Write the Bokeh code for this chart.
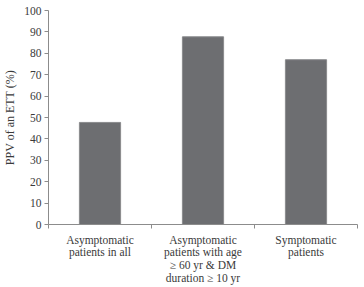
from bokeh.plotting import figure
from bokeh.models import FixedTicker, Range1d
from bokeh.embed import file_html
from bokeh.resources import INLINE

categories = ["Asymptomatic\npatients in all",
              "Asymptomatic\npatients with age\n\u2265 60 yr & DM\nduration \u2265 10 yr",
              "Symptomatic\npatients"]
ppv = [47.7, 87.7, 77.0]
y_ticks = [0, 10, 20, 30, 40, 50, 60, 70, 80, 90, 100]

xs = [i + 0.5 for i in range(len(categories))]
bounds = list(range(len(categories) + 1))

p = figure(width=364, height=287, output_backend="svg", toolbar_location=None,
           x_range=Range1d(0, len(categories)), y_range=Range1d(0, 100),
           min_border_left=44, min_border_right=7, min_border_top=10, min_border_bottom=63)
p.outline_line_color = None
p.xgrid.grid_line_color = None
p.ygrid.grid_line_color = None
p.background_fill_color = "white"

p.vbar(x=xs, top=ppv, width=0.4, bottom=0, fill_color="#6d6e71", line_color="#8a8b8d", line_width=1)

font = "Liberation Serif"
axcol = "#8c8c8c"
txtcol = "#3a3a3a"

p.xaxis.ticker = FixedTicker(ticks=xs, minor_ticks=bounds)
p.xaxis.major_label_overrides = {x: c for x, c in zip(xs, categories)}
p.xaxis.major_tick_line_color = None
p.xaxis.minor_tick_in = 0
p.xaxis.minor_tick_out = 4
p.xaxis.minor_tick_line_color = axcol
p.xaxis.axis_line_color = axcol
p.xaxis.major_label_text_font = font
p.xaxis.major_label_text_font_size = "11.5px"
p.xaxis.major_label_text_line_height = 1.07
p.xaxis.major_label_text_color = txtcol
p.xaxis.major_label_standoff = 3

p.yaxis.ticker = FixedTicker(ticks=y_ticks)
p.yaxis.minor_tick_line_color = None
p.yaxis.major_tick_in = 0
p.yaxis.major_tick_out = 4
p.yaxis.major_tick_line_color = axcol
p.yaxis.axis_line_color = axcol
p.yaxis.major_label_text_font = font
p.yaxis.major_label_text_font_size = "11.5px"
p.yaxis.major_label_text_color = txtcol
p.yaxis.major_label_standoff = 3
p.yaxis.axis_label = "PPV of an ETT (%)"
p.yaxis.axis_label_text_font = font
p.yaxis.axis_label_text_font_style = "normal"
p.yaxis.axis_label_text_font_size = "12px"
p.yaxis.axis_label_text_color = txtcol
p.yaxis.axis_label_standoff = 4

open("out.html", "w").write(file_html(p, INLINE))
